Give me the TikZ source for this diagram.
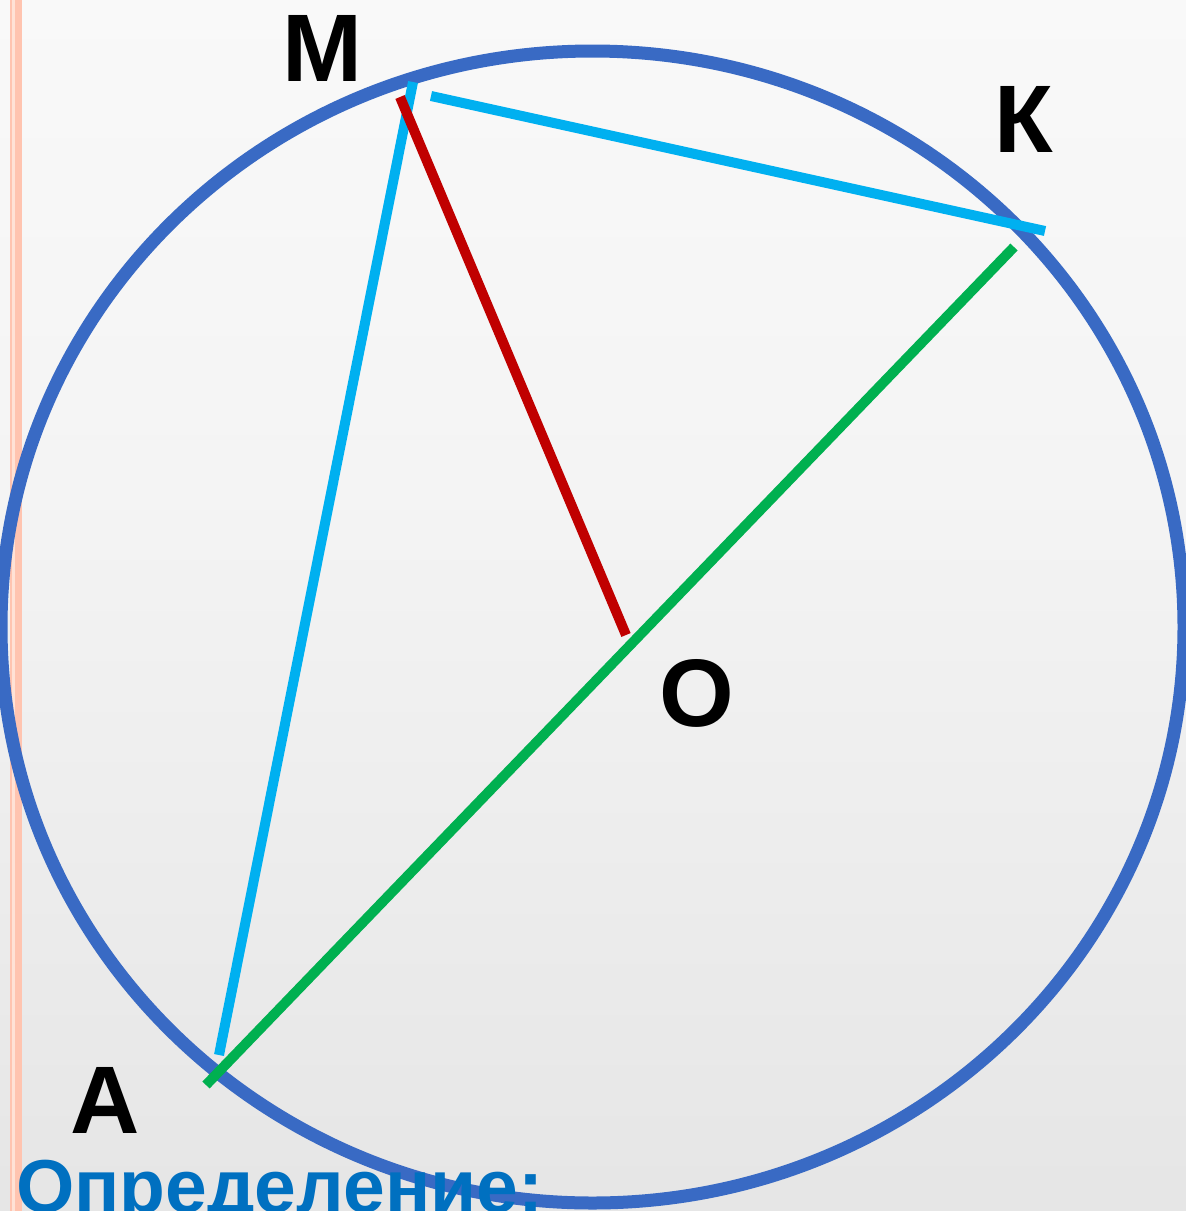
\documentclass[tikz,border=0pt]{standalone}
\usepackage{fontspec}
\setmainfont{Liberation Sans}
\definecolor{circblue}{RGB}{57,106,196}
\definecolor{cyanl}{RGB}{0,176,240}
\definecolor{redl}{RGB}{192,0,0}
\definecolor{greenl}{RGB}{0,176,80}
\definecolor{textblue}{RGB}{0,112,192}
\definecolor{pinkA}{RGB}{255,196,176}
\definecolor{pinkB}{RGB}{255,226,214}
\definecolor{bgbot}{RGB}{216,216,216}
\definecolor{bgmid}{RGB}{244,244,244}
\pgfdeclareverticalshading{bgshade}{100bp}{color(0bp)=(bgbot); color(20bp)=(bgbot!60!bgmid); color(55bp)=(bgmid); color(100bp)=(white)}
\tikzset{
  seg/.style={line width=10pt, line cap=butt},
  circ/.style={draw=circblue, line width=13pt},
  lbl/.style={inner sep=0pt, anchor=base, font=\fontsize{96}{110}\selectfont\bfseries},
}
\begin{document}
\begin{tikzpicture}[x=1pt,y=-1pt]
\useasboundingbox (0,0) rectangle (1186,1211);
\clip (0,0) rectangle (1186,1211);
\shade[shading=bgshade] (0,0) rectangle (1186,1211);
% left stripes
\fill[pinkA] (10,0) rectangle (12,1211);
\fill[pinkB] (12,0) rectangle (15,1211);
\fill[pinkA] (15,0) rectangle (22,1211);
% circle
\draw[circ] (592.5,627) ellipse [x radius=591.5, y radius=576];
% points
\coordinate (ma) at (413,82);
\coordinate (ab) at (219,1055);
\coordinate (mk) at (431,96);
\coordinate (kk) at (1045,231);
\coordinate (mr) at (400,97);
\coordinate (o) at (626,635);
\coordinate (kg) at (1014,247);
\coordinate (ag) at (206,1085);
% segments
\draw[seg, cyanl] (ma) -- (ab);
\draw[seg, cyanl] (mk) -- (kk);
\draw[seg, redl] (mr) -- (o);
\draw[seg, greenl] (kg) -- (ag);
% labels
\node[lbl] (M) at (322,81) {М};
\node[lbl] (K) at (1024,152) {К};
\node[lbl] (O) at (697,726) {О};
\node[lbl] (A) at (105,1133) {А};
\node[inner sep=0pt, anchor=base west, text=textblue, font=\fontsize{75}{80}\selectfont\bfseries] (def) at (16,1212) {Определение:};
\end{tikzpicture}
\end{document}
